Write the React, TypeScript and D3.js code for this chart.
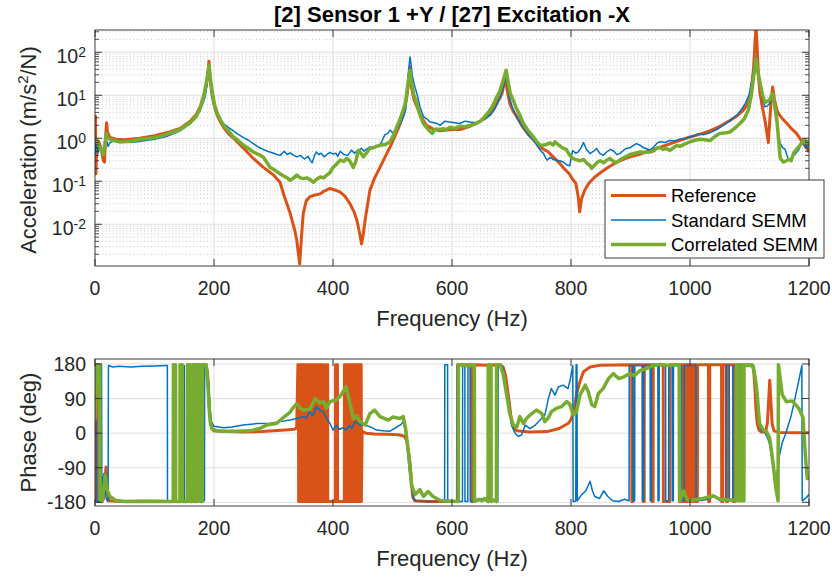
import React from 'react';
import * as d3 from 'd3';

type P = [number, number];
type FlipRun = { from: number; at: number[] };

const FONT = '"Liberation Sans", Arial, Helvetica, sans-serif';
const AX = '#262626';
const C_REF = '#D95319';
const C_STD = '#0072BD';
const C_COR = '#77AC30';

const titleText = '[2] Sensor 1 +Y / [27] Excitation -X';
const freqTicks = [0, 200, 400, 600, 800, 1000, 1200];
const magExponents = [-2, -1, 0, 1, 2];
const phaseTicks = [-180, -90, 0, 90, 180];
const legendNames = ['Reference', 'Standard SEMM', 'Correlated SEMM'];

// magnitude, [Hz, m/s^2/N]
const refMag: P[] = [
  [0, 0.5], [0.8, 3.3], [1.6, 0.15], [3, 0.7], [6, 0.85], [10, 0.6], [14, 0.3], [16, 0.28], [18, 1.2], [19.5, 2.3],
  [21, 1.4], [25, 1.05], [35, 0.95], [50, 0.93], [75, 1.0], [100, 1.15], [125, 1.4], [143, 1.7], [160, 2.5], [170, 3.6],
  [177, 5.5], [183, 10], [187, 17], [190, 35], [191.6, 62], [193, 30], [196, 12], [200, 6], [205, 3.5], [210, 2.5],
  [216, 1.8], [225, 1.25], [233, 1.0], [249, 0.6], [266, 0.34], [283, 0.21], [300, 0.14], [311, 0.095], [317, 0.05],
  [328, 0.018], [336, 0.007], [339, 0.0043], [344, 0.0012], [347, 0.005], [350, 0.018], [355, 0.035], [361.6, 0.044],
  [370, 0.048], [378.5, 0.051], [386, 0.06], [395, 0.068], [404, 0.062], [412, 0.056], [420, 0.045], [428.6, 0.03],
  [435, 0.02], [440, 0.0126], [445, 0.006], [448, 0.0035], [451, 0.006], [454, 0.0126], [462, 0.062], [470, 0.12],
  [479, 0.21], [488, 0.38], [496, 0.63], [505, 1.2], [513, 2.2], [520, 4.5], [524, 9], [527, 20], [529.4, 46], [532, 15],
  [536, 8], [541, 5.4], [548, 3.2], [557, 2.0], [570, 1.6], [580, 1.5], [600, 1.6], [614, 1.6], [630, 1.9], [645, 2.4],
  [655, 2.9], [665, 4], [672, 5.4], [680, 8.5], [684, 11], [688, 20], [690, 27], [692, 15], [697, 6.5], [703, 4.2],
  [709, 3.2], [718, 1.9], [727, 1.3], [736, 0.95], [745, 0.69], [752, 0.58], [762, 0.48], [770, 0.37], [779, 0.28],
  [788, 0.2], [797, 0.15], [803, 0.11], [808, 0.09], [812, 0.045], [814.5, 0.0195], [818, 0.04], [823, 0.062],
  [830, 0.09], [840, 0.126], [850, 0.16], [862, 0.21], [873, 0.26], [885, 0.31], [899, 0.37], [914, 0.42], [933, 0.52],
  [950, 0.62], [966, 0.74], [983, 0.9], [1000, 1.07], [1017, 1.25], [1034, 1.5], [1050, 1.9], [1067, 2.6], [1080, 3.4],
  [1090, 4.5], [1097, 6.5], [1101, 9], [1104, 18], [1107, 46], [1109, 150], [1111, 400], [1113, 120], [1115, 30],
  [1117.6, 11], [1122, 5], [1126, 2.6], [1129, 1.4], [1131.7, 0.8], [1134, 2.5], [1136.5, 8], [1139, 15.5], [1142, 8],
  [1146, 4.5], [1149, 3.7], [1155, 2.9], [1163, 2.2], [1170, 1.7], [1179, 1.3], [1188, 0.85], [1196, 0.6], [1200, 0.48],
];

const stdMag: P[] = [
  [0, 0.4], [1, 0.8], [2, 0.75], [5, 0.45], [8, 0.7], [11, 0.55], [14, 0.5], [17, 0.75], [20, 0.85], [22, 0.65],
  [25, 0.8], [30, 0.85], [42, 0.85], [60, 0.8], [76, 0.85], [100, 0.95], [120, 1.1], [143, 1.5], [160, 2.2], [176, 4.2],
  [185, 9], [189, 20], [191.6, 45], [194, 20], [197, 9], [203, 4], [210, 2.8], [216, 2.2], [224, 1.8], [232, 1.5],
  [240, 1.25], [249, 1.05], [258, 0.9], [266, 0.75], [275, 0.62], [283, 0.55], [290, 0.5], [294, 0.48], [300, 0.45],
  [306, 0.42], [311, 0.4], [318, 0.5], [323, 0.42], [328, 0.46], [334, 0.4], [339, 0.37], [345, 0.4], [352, 0.33],
  [358, 0.38], [361.6, 0.31], [365, 0.27], [369, 0.4], [372, 0.48], [376, 0.42], [380, 0.45], [385, 0.37], [390, 0.42],
  [395, 0.47], [400, 0.43], [405, 0.45], [408, 0.38], [412, 0.5], [418, 0.42], [425, 0.4], [431, 0.53], [436, 0.45],
  [440, 0.5], [448, 0.58], [452, 0.5], [456, 0.55], [462, 0.63], [470, 0.6], [479, 0.7], [483, 0.9], [487, 1.2],
  [492, 1.3], [496, 1.55], [500, 1.35], [505, 1.5], [509, 1.7], [513, 2.2], [518, 3.0], [522, 4.5], [526, 27],
  [529.4, 78], [531.5, 50], [533, 30], [537, 17], [541, 11], [546, 5.5], [552, 3.2], [558, 2.8], [563, 2.4], [570, 2.3],
  [575, 2.2], [580, 2.0], [588, 2.5], [596, 2.4], [605, 2.3], [613, 2.2], [622, 2.5], [630, 2.4], [640, 2.3], [650, 2.6],
  [657, 2.9], [664, 3.4], [672, 4.8], [680, 8.3], [686, 15], [691, 30], [694, 15], [697, 8.5], [701, 5.4], [710, 2.8],
  [720, 1.8], [728, 1.2], [737, 0.9], [745, 0.62], [750, 0.5], [754, 0.44], [757, 0.36], [760, 0.31], [765, 0.36],
  [770, 0.32], [776, 0.31], [781, 0.3], [787, 0.28], [793, 0.24], [798, 0.23], [800, 0.35], [803, 0.52], [808, 0.45],
  [812, 0.48], [817, 0.6], [821, 0.8], [826, 0.55], [832, 0.44], [838, 0.5], [843, 0.58], [848, 0.45], [854, 0.4],
  [860, 0.48], [866, 0.55], [872, 0.5], [877, 0.42], [882, 0.44], [888, 0.52], [893, 0.58], [899, 0.6], [905, 0.68],
  [910, 0.75], [916, 0.69], [922, 0.6], [927, 0.57], [933, 0.52], [940, 0.65], [945, 0.78], [950, 0.83], [958, 0.8],
  [966, 0.89], [975, 0.88], [983, 0.95], [992, 0.98], [1000, 1.07], [1008, 1.15], [1015, 1.3], [1022, 1.2],
  [1028, 1.28], [1034, 1.35], [1045, 1.6], [1056, 2.0], [1068, 2.6], [1079, 3.5], [1087, 4.8], [1093, 6.5], [1099, 10],
  [1104, 22], [1108, 50], [1111, 78], [1114, 40], [1118, 15.5], [1122, 8], [1126, 5.4], [1130, 5.6], [1134, 6.5],
  [1137, 8.5], [1139, 10], [1142, 5], [1146, 2.2], [1149, 1.1], [1151.6, 0.75], [1156, 0.6], [1160, 0.55], [1163, 0.4],
  [1166, 0.31], [1170, 0.33], [1174, 0.4], [1178, 0.45], [1183, 0.55], [1187, 0.75], [1189, 0.9], [1192, 0.7],
  [1194, 0.6], [1197, 0.68], [1200, 0.65],
];

const corMag: P[] = [
  [0, 0.85], [1.7, 0.9], [5, 0.75], [8, 0.6], [11, 0.5], [14, 0.41], [16.5, 0.7], [19, 1.3], [22, 1.0], [25, 0.95],
  [30, 0.9], [42, 0.82], [60, 0.85], [76, 0.95], [92, 1.0], [109, 1.1], [125, 1.3], [143, 1.6], [160, 2.3], [170, 3.2],
  [176.5, 4.9], [182, 8.5], [185, 14], [188.5, 25], [191.6, 50], [194, 24], [197, 12], [201, 6], [205, 4], [210, 2.8],
  [216, 2.0], [224, 1.5], [232, 1.1], [240, 0.9], [249, 0.7], [258, 0.58], [266, 0.48], [275, 0.42], [283, 0.36],
  [290, 0.26], [294, 0.21], [300, 0.19], [305, 0.17], [311, 0.15], [318, 0.13], [323, 0.12], [328, 0.105], [334, 0.12],
  [339, 0.14], [345, 0.12], [350, 0.115], [356, 0.12], [361, 0.11], [367, 0.095], [372, 0.11], [378.5, 0.126],
  [384, 0.12], [389, 0.138], [395, 0.16], [400, 0.21], [406, 0.25], [412, 0.31], [418, 0.29], [423, 0.34], [428, 0.3],
  [434, 0.21], [438, 0.28], [442.6, 0.52], [447, 0.45], [451, 0.37], [456, 0.45], [462, 0.58], [470, 0.62], [479, 0.69],
  [488, 0.72], [496, 0.83], [502, 1.2], [507, 1.8], [512, 2.6], [518, 4.5], [522, 7], [526, 18], [529.4, 38], [532, 20],
  [536, 10], [541, 6.3], [546, 3.5], [552, 2.2], [557, 1.8], [562, 1.5], [567, 1.3], [571, 1.6], [575, 1.65], [580, 1.6],
  [585, 1.66], [590, 1.6], [596.6, 1.8], [605, 1.7], [613, 1.9], [622, 1.85], [630, 2.0], [640, 2.2], [648, 2.5],
  [655, 3.2], [662, 4.2], [668, 5.5], [675, 9], [680, 12], [685, 20], [691, 38], [694, 22], [698, 11], [703, 7.6],
  [708, 5], [714, 3.5], [720, 2.2], [728, 1.5], [737, 1.07], [742, 0.85], [748, 0.69], [754, 0.7], [759, 0.72],
  [765, 0.78], [770, 0.7], [773, 0.83], [779, 0.7], [787, 0.58], [792, 0.55], [798, 0.4], [803, 0.34], [808, 0.32],
  [815, 0.3], [821, 0.32], [827, 0.26], [831, 0.24], [835, 0.2], [840, 0.24], [845, 0.28], [849, 0.3], [855, 0.27],
  [860, 0.31], [865, 0.34], [870, 0.3], [876, 0.27], [883, 0.32], [890, 0.36], [899, 0.42], [908, 0.45], [916, 0.48],
  [925, 0.47], [933, 0.48], [940, 0.52], [945, 0.6], [950, 0.6], [955, 0.55], [960, 0.58], [966, 0.52], [972, 0.6],
  [978, 0.68], [983, 0.65], [990, 0.72], [1000, 0.83], [1008, 0.9], [1017, 0.95], [1025, 0.92], [1034, 0.89],
  [1042, 1.1], [1050, 1.3], [1058, 1.32], [1067, 1.4], [1075, 1.7], [1084, 2.2], [1091, 2.8], [1098, 4.5], [1103, 10],
  [1107, 27], [1111, 71], [1114, 35], [1118, 18.6], [1122, 10], [1126, 6.9], [1130, 7.2], [1134, 7.9], [1137, 10],
  [1139, 11], [1142, 6], [1144, 4], [1146, 2.6], [1149, 0.9], [1151.6, 0.34], [1157, 0.28], [1162, 0.3], [1166, 0.32],
  [1170, 0.3], [1174, 0.45], [1179, 0.55], [1183, 0.64], [1186, 0.72], [1189, 0.83], [1192, 0.9], [1194, 0.78],
  [1197, 0.8], [1200, 0.72],
];

// phase, [Hz, deg] (wrapped)
const refPhase: P[] = [
  [0, 172], [0.6, -176], [1.4, 176], [3, 178], [4, 176], [4.6, -178], [10, -177], [14, -172], [16, -150], [17.5, -110],
  [18.5, -88], [19.5, -110], [21, -160], [24, -176], [40, -178], [80, -177], [120, -178], [160, -177], [171, -178],
  [171.6, 178], [186, 177], [189, 160], [190.5, 120], [192, 70], [194, 30], [196, 12], [200, 6], [220, 4], [250, 3],
  [280, 4], [300, 6], [320, 8], [335, 10], [339, 14], [341, 178],
  [449, 5], [455, 0], [470, -2], [490, -3], [510, -4], [520, -8], [524, -20], [527, -50], [530, -84], [532, -130],
  [534, -165], [537, -176], [560, -178], [590, -178], [609, -177], [609.6, 178], [632, 178], [632.6, -178], [636, -178],
  [636.6, 178], [660, 177], [680, 178], [686, 172], [690, 150], [693, 117], [697, 70], [700, 30], [705, 12], [709, 6],
  [730, 3], [760, 4], [780, 12], [795, 25], [800, 35], [805, 60], [809, 99], [815, 134], [821, 160], [832, 172],
  [850, 177], [901, 178],
  [1104, 178], [1107, 165], [1109, 120], [1111, 60], [1113, 25], [1116, 8], [1120, 3], [1127, 4], [1130, 25],
  [1132, 80], [1134, 138], [1136, 80], [1138, 25], [1141, 6], [1150, 2], [1200, 1],
];
const refFlips: FlipRun[] = [
  {
    from: 178,
    at: [342, 343.2, 344.1, 345.5, 346.4, 347.9, 349, 350.2, 351.6, 352.5, 353.9, 355.1, 356.3, 357.4, 358.8, 360,
      361.1, 362.6, 363.5, 364.9, 366.2, 367.3, 368.7, 369.6, 371, 372.4, 373.3, 374.8, 376, 377.1, 378.5, 379.4, 380.9,
      382.2, 383.6, 387.5, 391, 404, 407.5, 419, 420.3, 421.4, 422.8, 424, 425.1, 426.5, 427.4, 428.9, 430.1, 431.2,
      432.6, 433.5, 434.9, 436.2, 437.3, 438.7, 439.6, 441, 442.3, 443.4, 444.8, 446, 447.4],
  },
  {
    from: 178,
    at: [902, 904, 921, 923, 936, 938, 955, 966, 982, 983.5, 985, 986.3, 987.6, 989, 990.2, 991.5, 992.8, 994, 995.4,
      996.7, 998, 999.2, 1000.6, 1001.9, 1003.1, 1004.5, 1005.8, 1007, 1008.4, 1009.7, 1011, 1012.4, 1031, 1033, 1053,
      1055, 1061, 1063, 1073, 1075],
  },
];

const stdPhase: P[] = [
  [0, 170], [2, 176], [2.6, -176], [8, -178], [8.6, 178], [11, 177], [11.6, -172], [13.5, -120], [15, -105],
  [16.5, -140], [19, -172], [22, -178], [22.6, 176], [30, 172], [40, 174], [60, 172], [80, 174], [100, 175], [120, 176],
  [188, 176], [190, 150], [192, 100], [194, 50], [196, 28], [200, 18], [216, 14], [230, 16], [249, 21], [272, 25],
  [294, 26], [311, 30], [328, 34], [339, 38], [350, 43], [355, 40], [361, 56], [366, 45], [372, 69], [378, 60],
  [384, 55], [389, 40], [395, 25], [400, 8], [403, 15], [406, 21], [411, 10], [417, 14], [422, 8], [428, 20], [432, 12],
  [437, 30], [445, 22], [456, 20], [465, 15], [473, 8], [484, 6], [496, 5], [507, 16], [514, 22], [518, 30], [521, 10],
  [524, -20], [526, -60], [529, -107], [532, -140], [535, -168], [540, -177], [560, -178], [587, -178],
  [645, -176], [650, -170], [655, -176], [660, -165], [665, -175], [677, -178], [677.6, 178], [684, 177], [687, 160],
  [691, 110], [695, 90], [698, 50], [700, 21], [706, 0], [711, -8], [717, -5], [723, 21], [731, 12], [740, 21],
  [748, 34], [756, 47], [762, 90], [767, 116], [773, 99], [779, 121], [787, 125], [795, 116], [799, 142], [803, 176],
  [803.6, -178], [808, -177], [808.6, 178], [810, 178], [810.6, -176], [818, -160], [825, -150], [832, -125],
  [836, -150], [840, -165], [848, -170], [855, -150], [862, -165], [870, -176], [880, -178], [890, -172], [897, -176],
  [1020, -175], [1030, -172], [1040, -165], [1045, -170], [1050, -176], [1055, -172], [1060, -176],
  [1104, 178], [1108, 150], [1111, 110], [1114, 50], [1117, 20], [1120, 6], [1125, 3], [1130, -10], [1134, -30],
  [1138, -70], [1143, -110], [1146, -108], [1150, -60], [1155, -25], [1160, -5], [1165, 20], [1170, 45], [1175, 80],
  [1182, 130], [1188, 176], [1188.6, -176], [1194, -170], [1200, -160],
];
const stdFlips: FlipRun[] = [
  { from: 176, at: [121.6, 147.7, 150, 170.8, 172.5, 177.6, 179, 184] },
  { from: -178, at: [587.6, 592.6, 608.6, 611.6, 617.6, 621.6, 626.6, 630.6] },
  { from: -176, at: [897.6, 904, 907, 920, 922, 933, 935, 946, 948, 959, 964, 970, 972, 985, 990, 1010] },
  { from: -176, at: [1060.6, 1066, 1072, 1078, 1083.6] },
];

const corPhase: P[] = [
  [0, 35], [2, 120], [3, 178], [8, 178], [8.6, -172], [12, -178], [15, -140], [17, -110], [18.5, -125], [21, -150],
  [25, -165], [35, -175], [50, -178], [100, -177], [130, -178],
  [187, 178], [190, 120], [192, 60], [194, 25], [197, 12], [204, 6], [216, 5], [238, 5], [260, 6], [277, 12], [288, 21],
  [305, 25], [316, 40], [328, 55], [333, 66], [339, 76], [345, 65], [350, 60], [361, 62], [370, 90], [378, 78],
  [384, 82], [389, 65], [395, 82], [406, 87], [414, 100], [422, 121], [428, 82], [434, 38], [440, 45], [445, 30],
  [454, 21], [462, 51], [470, 60], [479, 43], [484, 40], [493, 34], [501, 42], [512, 38], [518, 43], [522, 12],
  [528, -66], [532, -135], [538, -160], [546, -147], [552, -165], [560, -152], [568, -165], [580, -175], [600, -177],
  [610, -178],
  [630, 175], [645, -172], [650, -176], [655, -170], [670, -174],
  [681, 178], [686, 153], [692, 99], [697, 51], [703, 21], [709, 16], [714, 43], [720, 25], [725, 38], [734, 51],
  [742, 60], [751, 51], [756, 30], [762, 40], [767, 56], [776, 65], [784, 69], [793, 82], [798, 75], [804, 47],
  [809, 55], [815, 99], [824, 125], [829, 108], [835, 74], [840, 69], [846, 103], [854, 116], [863, 142], [871, 155],
  [880, 142], [888, 146], [899, 155], [907, 150], [916, 163], [927, 168], [938, 176], [950, 179], [964, 176], [975, 178],
  [982, 178], [982.6, -178], [989, -150], [995, -172], [1000, -176], [1022, -170], [1039, -163], [1050, -172],
  [1073, -174], [1077, -176],
  [1106, 176], [1109, 150], [1112, 117], [1115, 60], [1117, 25], [1123, 8], [1129, 3], [1134, -13], [1140, -83],
  [1144, -140], [1148, -176], [1148.6, 178], [1151, 150], [1155, 100], [1162, 82], [1172, 84], [1183, 64], [1190, 40],
  [1194, -60], [1197, -118], [1200, -120],
];
const corFlips: FlipRun[] = [
  { from: -178, at: [131.5, 135.4, 142.7, 146.6, 155, 159.7, 163.6, 168, 172, 176.5, 180.4] },
  { from: -178, at: [610.6, 637.6, 660.6, 665.6, 674.6] },
  { from: -176, at: [1077.6, 1080.6, 1086.6, 1088.6, 1090.6] },
];

// merge wrap toggles (jumps between +180 and -180) into the phase points
function withFlips(pts: P[], runs: FlipRun[]): P[] {
  const out: P[] = pts.slice();
  runs.forEach((r) => {
    let v = r.from;
    r.at.forEach((f) => {
      out.push([f, v]);
      v = -v;
      out.push([f + 0.25, v]);
    });
  });
  return out.sort((a, b) => a[0] - b[0]);
}

const topBox = { l: 95, r: 809, t: 30, b: 266 };
const botBox = { l: 95, r: 809, t: 359, b: 506 };

export default function App() {
  const x = d3.scaleLinear().domain([0, 1200]).range([topBox.l, topBox.r]);
  const yMag = d3.scaleLog().domain([0.00107, 330]).range([topBox.b, topBox.t]);
  const yPh = d3.scaleLinear().domain([-189.6, 193]).range([botBox.b, botBox.t]);

  const magLine = d3.line<P>().x((d) => x(d[0])).y((d) => yMag(d[1]));
  const phLine = d3.line<P>().x((d) => x(d[0])).y((d) => yPh(d[1]));

  const minorVals: number[] = [];
  for (let e = -3; e <= 2; e++) {
    for (let m = 2; m <= 9; m++) {
      const v = m * Math.pow(10, e);
      if (v > 0.00107 && v < 330) minorVals.push(v);
    }
  }

  const series = [
    { name: legendNames[0], color: C_REF, w: 3, mag: refMag, ph: withFlips(refPhase, refFlips) },
    { name: legendNames[1], color: C_STD, w: 1.5, mag: stdMag, ph: withFlips(stdPhase, stdFlips) },
    { name: legendNames[2], color: C_COR, w: 3.5, mag: corMag, ph: withFlips(corPhase, corFlips) },
  ];

  const tickLen = 7;
  const minorLen = 4;

  const frame = (b: typeof topBox) => (
    <rect x={b.l} y={b.t} width={b.r - b.l} height={b.b - b.t} fill="none" stroke={AX} strokeWidth={0.9} />
  );

  const xTicks = (b: typeof topBox) => (
    <g>
      {freqTicks.map((t) => (
        <g key={t}>
          <line x1={x(t)} x2={x(t)} y1={b.b} y2={b.b - tickLen} stroke={AX} strokeWidth={0.9} />
          <line x1={x(t)} x2={x(t)} y1={b.t} y2={b.t + tickLen} stroke={AX} strokeWidth={0.9} />
          <text x={x(t)} y={b.b + 29} textAnchor="middle" fontSize={19.5} fill={AX}>
            {t}
          </text>
        </g>
      ))}
    </g>
  );

  return (
    <svg
      width={832}
      height={578}
      style={{ position: 'absolute', left: 0, top: 0, background: '#fff' }}
      fontFamily={FONT}
    >
      <defs>
        <clipPath id="clipTop">
          <rect x={topBox.l} y={topBox.t} width={topBox.r - topBox.l} height={topBox.b - topBox.t} />
        </clipPath>
        <clipPath id="clipBot">
          <rect x={botBox.l} y={botBox.t} width={botBox.r - botBox.l} height={botBox.b - botBox.t} />
        </clipPath>
      </defs>
      <rect width={832} height={578} fill="#fff" />

      {/* ---------- top axes ---------- */}
      <g>
        {minorVals.map((v) => (
          <line key={'mg' + v} x1={topBox.l} x2={topBox.r} y1={yMag(v)} y2={yMag(v)}
            stroke="#bdbdbd" strokeWidth={0.8} strokeDasharray="1 2.5" />
        ))}
        {magExponents.map((e) => (
          <line key={'g' + e} x1={topBox.l} x2={topBox.r} y1={yMag(Math.pow(10, e))} y2={yMag(Math.pow(10, e))}
            stroke="#dfdfdf" strokeWidth={1} />
        ))}
        {freqTicks.slice(1, -1).map((t) => (
          <line key={'vx' + t} x1={x(t)} x2={x(t)} y1={topBox.t} y2={topBox.b} stroke="#dfdfdf" strokeWidth={1} />
        ))}
      </g>
      <g clipPath="url(#clipTop)" fill="none" strokeLinejoin="round">
        {series.map((s) => (
          <path key={'m' + s.name} d={magLine(s.mag) || ''} stroke={s.color} strokeWidth={s.w} />
        ))}
      </g>
      {frame(topBox)}
      {xTicks(topBox)}
      {minorVals.map((v) => (
        <g key={'mt' + v}>
          <line x1={topBox.l} x2={topBox.l + minorLen} y1={yMag(v)} y2={yMag(v)} stroke={AX} strokeWidth={0.8} />
          <line x1={topBox.r} x2={topBox.r - minorLen} y1={yMag(v)} y2={yMag(v)} stroke={AX} strokeWidth={0.8} />
        </g>
      ))}
      {magExponents.map((e) => {
        const yy = yMag(Math.pow(10, e));
        return (
          <g key={'yt' + e}>
            <line x1={topBox.l} x2={topBox.l + tickLen} y1={yy} y2={yy} stroke={AX} strokeWidth={0.9} />
            <line x1={topBox.r} x2={topBox.r - tickLen} y1={yy} y2={yy} stroke={AX} strokeWidth={0.9} />
            <text x={86} y={yy + 11} textAnchor="end" fontSize={19.5} fill={AX}>
              10
              <tspan dy={-6.5} fontSize={14}>
                {e}
              </tspan>
            </text>
          </g>
        );
      })}
      <text transform="translate(36,150) rotate(-90)" textAnchor="middle" fontSize={22} fill={AX}>
        Acceleration (m/s
        <tspan dy={-8} fontSize={15}>2</tspan>
        <tspan dy={8}>/N)</tspan>
      </text>
      <text x={452} y={326} textAnchor="middle" fontSize={22} fill={AX}>
        Frequency (Hz)
      </text>
      <text x={452} y={22} textAnchor="middle" fontSize={22} fontWeight="bold" fill="#000">
        {titleText}
      </text>

      {/* legend */}
      <g>
        <rect x={605} y={180} width={219} height={78} fill="#fff" stroke={AX} strokeWidth={0.9} />
        {series.map((s, i) => {
          const yy = 195.5 + i * 24.5;
          return (
            <g key={'lg' + s.name}>
              <line x1={611} x2={666} y1={yy} y2={yy} stroke={s.color} strokeWidth={s.w} />
              <text x={671} y={yy + 6.5} fontSize={18.5} fill="#000">
                {s.name}
              </text>
            </g>
          );
        })}
      </g>

      {/* ---------- bottom axes ---------- */}
      <g>
        {phaseTicks.map((t) => (
          <line key={'pg' + t} x1={botBox.l} x2={botBox.r} y1={yPh(t)} y2={yPh(t)} stroke="#dfdfdf" strokeWidth={1} />
        ))}
        {freqTicks.slice(1, -1).map((t) => (
          <line key={'pvx' + t} x1={x(t)} x2={x(t)} y1={botBox.t} y2={botBox.b} stroke="#dfdfdf" strokeWidth={1} />
        ))}
      </g>
      <g clipPath="url(#clipBot)" fill="none" strokeLinejoin="round">
        {series.map((s) => (
          <path key={'p' + s.name} d={phLine(s.ph) || ''} stroke={s.color} strokeWidth={s.w} />
        ))}
      </g>
      {frame(botBox)}
      {xTicks(botBox)}
      {phaseTicks.map((t) => (
        <g key={'pt' + t}>
          <line x1={botBox.l} x2={botBox.l + tickLen} y1={yPh(t)} y2={yPh(t)} stroke={AX} strokeWidth={0.9} />
          <line x1={botBox.r} x2={botBox.r - tickLen} y1={yPh(t)} y2={yPh(t)} stroke={AX} strokeWidth={0.9} />
          <text x={86} y={yPh(t) + 7} textAnchor="end" fontSize={19.5} fill={AX}>
            {t}
          </text>
        </g>
      ))}
      <text transform="translate(36,432.5) rotate(-90)" textAnchor="middle" fontSize={22} fill={AX}>
        Phase (deg)
      </text>
      <text x={452} y={566} textAnchor="middle" fontSize={22} fill={AX}>
        Frequency (Hz)
      </text>
    </svg>
  );
}
